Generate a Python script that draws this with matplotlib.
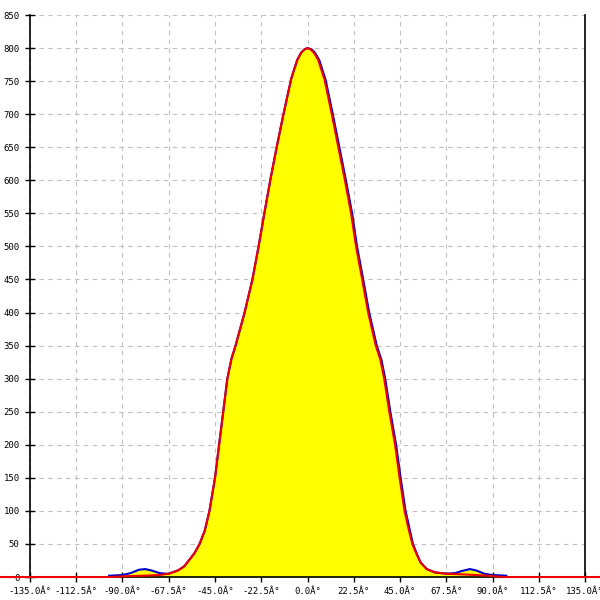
import matplotlib
matplotlib.use('Agg')
import matplotlib.pyplot as plt
import numpy as np

# left flank shared by both traces (angle in degrees, level)
left_ang = [-67.5, -63, -60, -57.5, -55, -52.5, -50, -47.7, -45, -43, -41, -39,
            -37, -35, -30.6, -26.8, -23.8, -21, -18, -15, -11.7, -7.9,
            -5, -3.1, -1.5, 0]
left_val = [5, 10, 16, 26, 36, 50, 70, 100, 150, 200, 250, 300,
            330, 350, 400, 450, 500, 550, 602, 650, 700, 754,
            782, 793, 798, 800]

# red trace
red_ang = ([-180, -96, -90, -80, -72] + left_ang +
           [1.5, 3.1, 5.2, 8.3, 11.8, 15, 18.2, 21.2, 23.6, 26.6, 29.5, 33.2,
            35.5, 37.3, 39.8, 42.6, 44.8, 47.2, 49, 51, 53, 55, 58, 62, 67.5, 75,
            82, 88, 95, 180])
red_val = ([0, 0, 1, 2, 3] + left_val +
           [798, 793, 782, 752, 700, 650, 600, 550, 500, 450, 400, 350,
            328, 300, 250, 200, 150, 100, 75, 50, 35, 22, 12, 7, 5, 4,
            3, 2, 0, 0])

# blue trace
blue_ang = ([-96.5, -90, -86, -82, -79, -76, -72, -69] + left_ang +
            [2, 3.6, 5.7, 8.8, 12.3, 15.5, 18.7, 21.7, 24.1, 27.1, 30, 33.7,
             36, 37.8, 40.3, 43.1, 45.3, 47.7, 49.5, 51.3, 53.2, 55, 58, 62,
             67.5, 72, 75, 79, 82, 86, 90, 96.7])
blue_val = ([2, 3, 6, 11, 12, 10, 6, 5] + left_val +
            [798, 793, 782, 752, 700, 650, 600, 550, 500, 450, 400, 350,
             328, 300, 250, 200, 150, 100, 75, 50, 35, 22, 12, 7,
             5, 6, 9, 12, 10, 5, 3, 2])

x_ticks = np.arange(-135, 135.1, 22.5)
x_labels = [f'{t:.1f}Â°' for t in x_ticks]
y_ticks = list(range(0, 851, 50))

fig = plt.figure(figsize=(6, 6), dpi=100)
ax = fig.add_axes([0.05, 0.0383, 0.925, 0.9367])

ax.fill_between(blue_ang, blue_val, 0, color='#ffff00', linewidth=0, zorder=2)
ax.plot(blue_ang, blue_val, color='#0000cc', linewidth=1.5, zorder=3)
ax.plot(red_ang, red_val, color='#ee0000', linewidth=1.5, zorder=4, clip_on=False)

ax.set_xlim(-135, 135)
ax.set_ylim(0, 850)
ax.set_xticks(x_ticks)
ax.set_xticklabels(x_labels)
ax.set_yticks(y_ticks)

for lab in ax.get_xticklabels() + ax.get_yticklabels():
    lab.set_fontfamily('DejaVu Sans Mono')
    lab.set_fontsize(6.5)

ax.tick_params(direction='inout', length=7, width=1, color='black', pad=4)
ax.grid(True, linestyle=(0, (4, 4)), color='#c0c0c0', linewidth=0.8, zorder=1)
ax.set_axisbelow(True)

ax.spines['top'].set_visible(False)
for s in ['left', 'right', 'bottom']:
    ax.spines[s].set_color('black')
    ax.spines[s].set_linewidth(1.2)

fig.savefig('out.png', dpi=100)
